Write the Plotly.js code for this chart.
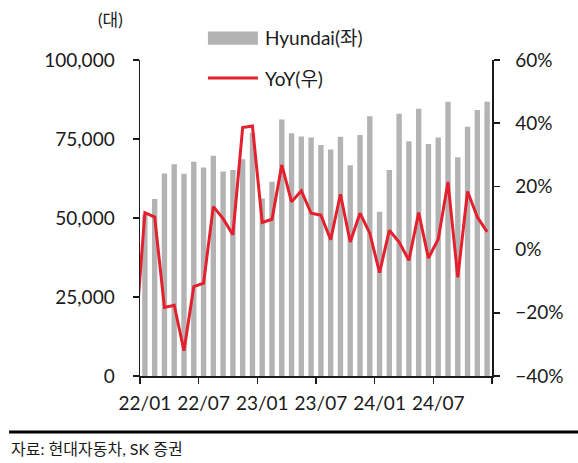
<!DOCTYPE html>
<html>
<head>
<meta charset="utf-8">
<script src="https://cdn.plot.ly/plotly-3.0.1.min.js"></script>
<style>
  html, body { margin: 0; padding: 0; background: #fff; }
  #chart { width: 578px; height: 463px; }
</style>
</head>
<body>
<div id="chart"></div>
<script>
// months shown on the chart (bars)
var months = ['22/01', '22/02', '22/03', '22/04', '22/05', '22/06', '22/07', '22/08', '22/09', '22/10', '22/11', '22/12',
              '23/01', '23/02', '23/03', '23/04', '23/05', '23/06', '23/07', '23/08', '23/09', '23/10', '23/11', '23/12',
              '24/01', '24/02', '24/03', '24/04', '24/05', '24/06', '24/07', '24/08', '24/09', '24/10', '24/11', '24/12'];

// Hyundai monthly sales (units)
var hyundai = [51000, 56000, 64100, 67000, 64000, 67800, 66000, 69700, 64700, 65200, 68600, 77000,
               56200, 61500, 81200, 76800, 75800, 75500, 73100, 71700, 75700, 66700, 76300, 82200,
               52000, 65200, 83000, 74300, 84600, 73400, 75500, 86800, 69200, 78900, 84200, 86800];

// YoY (%) - the line starts one month earlier, cut off at the left axis
var yoyMonths = ['21/12'].concat(months);
var yoy = [-29, 11.7, 10.3, -18.3, -17.6, -32.0, -11.7, -10.6, 13.6, 9.8, 4.7, 38.6, 39.1,
           8.6, 9.6, 26.8, 15.1, 18.6, 11.5, 10.9, 3.1, 17.5, 2.4, 11.5, 5.2,
           -7.3, 6.1, 2.4, -3.4, 11.7, -2.7, 3.3, 21.4, -8.8, 18.4, 10.3, 5.6];

var FONT = 'Lato, "Noto Sans CJK KR", sans-serif';
var INK = '#1a1a1a';
var BAR = '#b3b3b3';
var RED = '#e5202e';

var traces = [{
        x: months,
        y: hyundai,
        type: 'bar',
        name: 'Hyundai(좌)',
        marker: {color: BAR},
        hoverinfo: 'skip'
    },
    {
        x: yoyMonths,
        y: yoy,
        type: 'scatter',
        mode: 'lines',
        name: 'YoY(우)',
        yaxis: 'y2',
        line: {color: RED, width: 3},
        hoverinfo: 'skip'
    }
];

var axisStyle = {
    ticks: 'outside',
    ticklen: 6,
    tickwidth: 1.5,
    tickcolor: INK,
    showline: true,
    linecolor: INK,
    linewidth: 1.5,
    showgrid: false,
    zeroline: false,
    tickfont: {size: 19}
};

var layout = {
    width: 578,
    height: 463,
    margin: {l: 140, r: 86, t: 60, b: 87},
    paper_bgcolor: '#fff',
    plot_bgcolor: '#fff',
    font: {family: FONT, size: 19, color: INK},
    bargap: 0.45,
    showlegend: false,
    xaxis: Object.assign({}, axisStyle, {
        type: 'category',
        categoryorder: 'array',
        categoryarray: yoyMonths,
        range: [0.5, 36.5],
        tickmode: 'linear',
        tick0: 1,
        dtick: 6,
        tickson: 'boundaries',
        tickangle: 0,
        ticklabelstandoff: 10
    }),
    yaxis: Object.assign({}, axisStyle, {
        range: [0, 100000],
        dtick: 25000,
        tickformat: ',d',
        ticklabelstandoff: 14
    }),
    yaxis2: Object.assign({}, axisStyle, {
        overlaying: 'y',
        side: 'right',
        range: [-40, 60],
        dtick: 20,
        ticksuffix: '%',
        ticklabelstandoff: 12
    }),
    annotations: [{
            text: '(대)',
            xref: 'paper', yref: 'paper',
            x: -0.085, y: 1.127,
            xanchor: 'center', yanchor: 'middle',
            showarrow: false,
            font: {size: 17}
        },
        {
            text: 'Hyundai(좌)',
            xref: 'paper', yref: 'paper',
            x: 0.349, y: 1.07,
            xanchor: 'left', yanchor: 'middle',
            showarrow: false
        },
        {
            text: 'YoY(우)',
            xref: 'paper', yref: 'paper',
            x: 0.349, y: 0.943,
            xanchor: 'left', yanchor: 'middle',
            showarrow: false
        },
        {
            text: '자료: 현대자동차, SK 증권',
            xref: 'paper', yref: 'paper',
            x: -0.372, y: -0.228,
            xanchor: 'left', yanchor: 'middle',
            showarrow: false,
            font: {size: 16}
        }
    ],
    shapes: [{
            // legend swatch: bars
            type: 'rect',
            xref: 'paper', yref: 'paper',
            x0: 0.193, x1: 0.335, y0: 1.048, y1: 1.09,
            fillcolor: BAR,
            line: {width: 0}
        },
        {
            // legend swatch: line
            type: 'line',
            xref: 'paper', yref: 'paper',
            x0: 0.193, x1: 0.335, y0: 0.943, y1: 0.943,
            line: {color: RED, width: 3}
        },
        {
            type: 'line',
            xref: 'paper', yref: 'paper',
            x0: -0.372, x1: 1.25,
            y0: -0.177, y1: -0.177,
            line: {color: '#000', width: 3}
        }
    ]
};

Plotly.newPlot('chart', traces, layout, {displayModeBar: false, staticPlot: true});
</script>
</body>
</html>
